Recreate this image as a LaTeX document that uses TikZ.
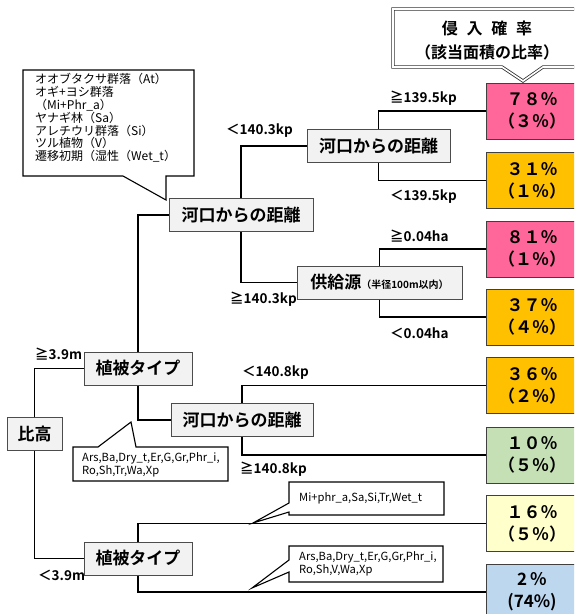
\documentclass[tikz,border=0pt]{standalone}
\usepackage{fontspec}
\newfontfamily\jp{Noto Sans CJK JP}[BoldFont={Noto Sans CJK JP Bold}]
\definecolor{rpink}{HTML}{FF6699}
\definecolor{rorange}{HTML}{FFC000}
\definecolor{rgreen}{HTML}{C5E0B4}
\definecolor{ryellow}{HTML}{FFFFCC}
\definecolor{rblue}{HTML}{BDD7EE}
\definecolor{decfill}{HTML}{F2F2F2}
\begin{document}
\begin{tikzpicture}[x=1pt,y=-1pt,
  dec/.style={draw=black!70, fill=decfill, line width=1pt, minimum height=33pt, inner sep=0pt, font=\jp\bfseries\fontsize{17}{20}\selectfont},
  res/.style={draw=black!75, line width=1pt, minimum width=92pt, minimum height=56pt, inner sep=0pt, align=center, font=\jp\bfseries\fontsize{17}{22}\selectfont},
  conn/.style={line width=1.7pt},
  lbl/.style={anchor=west, inner sep=0pt, font=\jp\bfseries\fontsize{13.5}{15}\selectfont},
  call/.style={draw=black, line width=1.1pt, fill=white},
  ctext/.style={anchor=west, inner sep=0pt, align=left, font=\jp\fontsize{11.2}{13}\selectfont}
]
\useasboundingbox (0,0) rectangle (574,614);
\clip (0,0) rectangle (574,614);

% decision nodes
\node[dec, minimum width=55pt] (hikou) at (34.5,434) {比高};
\node[dec, minimum width=108pt] (veg1) at (138,368.5) {植被タイプ};
\node[dec, minimum width=108pt] (veg2) at (138,558.5) {植被タイプ};
\node[dec, minimum width=144pt] (dist1) at (241,215) {河口からの距離};
\node[dec, minimum width=143pt] (dist2) at (378.5,146) {河口からの距離};
\node[dec, minimum width=165pt] (supply) at (379.5,282.5) {供給源{\fontsize{10}{12}\selectfont （半径100m以内）}};
\node[dec, minimum width=142pt] (dist3) at (242,420) {河口からの距離};

% result nodes
\node[res, fill=rpink]   (r1) at (532,111)   {７８％\\（３％）};
\node[res, fill=rorange] (r2) at (532,180.5) {３１％\\（１％）};
\node[res, fill=rpink]   (r3) at (532,249)   {８１％\\（１％）};
\node[res, fill=rorange] (r4) at (532,317)   {３７％\\（４％）};
\node[res, fill=rorange] (r5) at (532,385.5) {３６％\\（２％）};
\node[res, fill=rgreen]  (r6) at (532,455)   {１０％\\（５％）};
\node[res, fill=ryellow] (r7) at (532,523.5) {１６％\\（５％）};
\node[res, fill=rblue]   (r8) at (532,592)   {2\,％\\(74\%)};

% connectors
\draw[conn] (hikou.north) |- (veg1.west);
\draw[conn] (hikou.south) |- (veg2.west);
\draw[conn] (veg1.north) |- (dist1.west);
\draw[conn] (veg1.south) |- (dist3.west);
\draw[conn] (dist1.north) |- (dist2.west);
\draw[conn] (dist1.south) |- (supply.west);
\draw[conn] (dist2.north) |- (r1.west);
\draw[conn] (dist2.south) |- (r2.west);
\draw[conn] (supply.north) |- (r3.west);
\draw[conn] (supply.south) |- (r4.west);
\draw[conn] (dist3.north) |- (r5.west);
\draw[conn] (dist3.south) |- (r6.west);
\draw[conn] (veg2.north) |- (r7.west);
\draw[conn] (veg2.south) |- (r8.west);

% branch labels
\node[lbl] (l1) at (35,354) {≧3.9m};
\node[lbl] (l2) at (38,575) {＜3.9m};
\node[lbl] (l3) at (226,131) {＜140.3kp};
\node[lbl] (l4) at (230,299) {≧140.3kp};
\node[lbl] (l5) at (390,98) {≧139.5kp};
\node[lbl] (l6) at (390,197) {＜139.5kp};
\node[lbl] (l7) at (390,236) {≧0.04ha};
\node[lbl] (l8) at (390,333) {＜0.04ha};
\node[lbl] (l9) at (242,373) {＜140.8kp};
\node[lbl] (l10) at (240,469) {≧140.8kp};

% header callout
\draw[double=white, double distance=1.6pt, draw=black!80, line width=0.8pt, fill=white]
  (393,9) -- (585,9) -- (585,67) -- (543,67) -- (523,81) -- (502,67) -- (393,67) -- cycle;
\node[inner sep=0pt, align=center, font=\jp\bfseries\fontsize{16}{24}\selectfont] (hdr) at (487,40)
  {侵\hspace{0.55em}入\hspace{0.55em}確\hspace{0.55em}率\\（該当面積の比率）};

% top-left callout
\draw[call] (23,70) -- (194,70) -- (194,176) -- (166,176) -- (166,200) -- (123,176) -- (23,176) -- cycle;
\node[ctext, anchor=north west, font=\jp\fontsize{12}{12.8}\selectfont] (c1) at (35,73.5) {オオブタクサ群落（At）\\オギ+ヨシ群落\\（Mi+Phr\_a）\\ヤナギ林（Sa）\\アレチウリ群落（Si）\\ツル植物（V）\\遷移初期（湿性（Wet\_t）};

% middle callout
\draw[call] (73,447) -- (98,447) -- (131,422) -- (136,447) -- (228,447) -- (228,481) -- (73,481) -- cycle;
\node[ctext] (c2) at (82,464.5) {Ars,Ba,Dry\_t,Er,G,Gr,Phr\_i,\\Ro,Sh,Tr,Wa,Xp};

% lower callouts
\draw[call] (289,482) -- (444,482) -- (444,515) -- (289,515) -- (289,512) -- (253,523) -- (289,503) -- cycle;
\node[ctext] (c3) at (299,498.5) {Mi+phr\_a,Sa,Si,Tr,Wet\_t};

\draw[call] (289,546) -- (443,546) -- (443,582) -- (289,582) -- (289,572) -- (252,588) -- (289,560) -- cycle;
\node[ctext] (c4) at (299,564) {Ars,Ba,Dry\_t,Er,G,Gr,Phr\_i,\\Ro,Sh,V,Wa,Xp};
\end{tikzpicture}
\end{document}
